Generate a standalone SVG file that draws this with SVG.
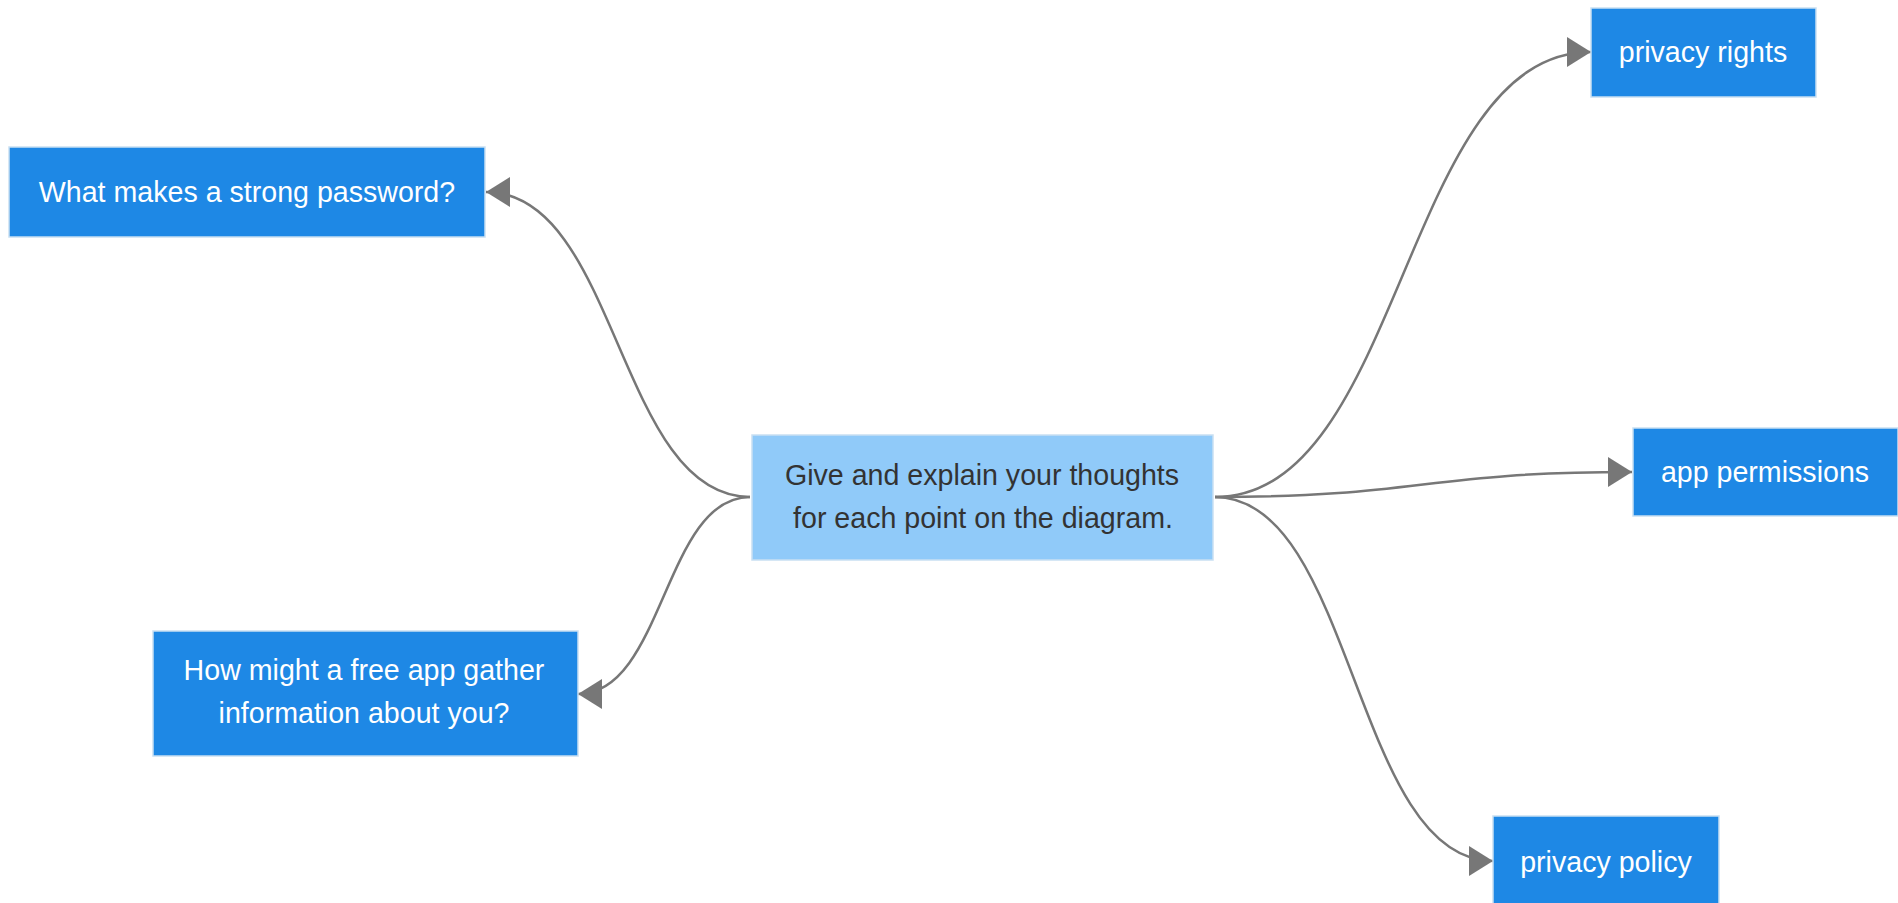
<svg xmlns="http://www.w3.org/2000/svg" width="1898" height="903" viewBox="0 0 1898 903">
  <style>
    .node rect { stroke: #c9dff2; stroke-width: 1.5; }
    .leaf rect { fill: #1e88e5; }
    .root rect { fill: #90caf9; }
    .node text { font-family: "Liberation Sans", Arial, sans-serif; font-size: 28.6px; text-anchor: middle; }
    .leaf text { fill: #ffffff; }
    .root text { fill: #333333; }
    .links path { fill: none; stroke: #777777; stroke-width: 2.5; marker-end: url(#arrow); }
  </style>
  <defs>
    <!-- arrowhead whose tip sits on the end of each link -->
    <marker id="arrow" markerUnits="userSpaceOnUse" markerWidth="26" markerHeight="32" refX="24" refY="15" orient="auto" viewBox="0 0 26 32">
      <path d="M0,0 L24,15 L0,30 z" fill="#777777"/>
    </marker>
  </defs>
  <rect width="1898" height="903" fill="#ffffff"/>

  <!-- connectors: S-curves from the central topic to each branch -->
  <g id="links" class="links">
    <path d="M750,497 C618,497 618,192 486,192"/>
    <path d="M750,497 C664,497 664,694 578,694"/>
    <path d="M1215,497 C1403,497 1403,52 1591,52"/>
    <path d="M1215,497 C1423,497 1423,472 1632,472"/>
    <path d="M1215,497 C1354,497 1354,861 1493,861"/>
  </g>

  <!-- central topic -->
  <g id="node-root" class="node root">
    <rect x="752" y="435" width="461" height="125"/>
    <text x="982" y="485">Give and explain your thoughts</text>
    <text x="983" y="528">for each point on the diagram.</text>
  </g>

  <g id="node-password" class="node leaf">
    <rect x="9" y="147" width="476" height="90"/>
    <text x="247" y="202">What makes a strong password?</text>
  </g>

  <g id="node-free-app" class="node leaf">
    <rect x="153" y="631" width="425" height="125"/>
    <text x="364" y="680">How might a free app gather</text>
    <text x="364" y="723">information about you?</text>
  </g>

  <g id="node-privacy-rights" class="node leaf">
    <rect x="1591" y="8" width="225" height="89"/>
    <text x="1703" y="62">privacy rights</text>
  </g>

  <g id="node-app-permissions" class="node leaf">
    <rect x="1633" y="428" width="265" height="88"/>
    <text x="1765" y="482">app permissions</text>
  </g>

  <g id="node-privacy-policy" class="node leaf">
    <rect x="1493" y="816" width="226" height="90"/>
    <text x="1606" y="872">privacy policy</text>
  </g>
</svg>
